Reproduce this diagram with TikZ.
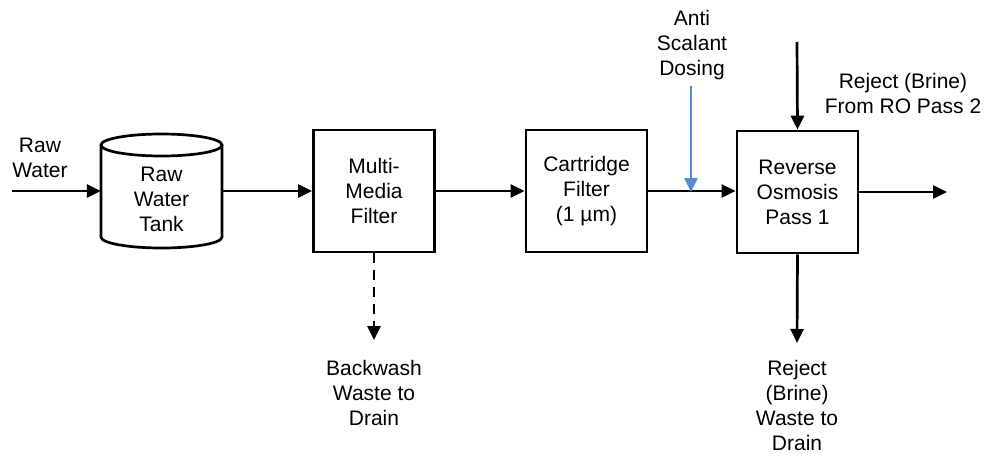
\documentclass[tikz,border=0pt]{standalone}
\usepackage{fontspec}
\setmainfont{Liberation Sans}
\usetikzlibrary{arrows.meta}
\definecolor{dosing}{RGB}{85,142,213}
\begin{document}
\begin{tikzpicture}[x=1pt,y=-1pt,
  every node/.style={font=\fontsize{21}{25}\selectfont, align=center, inner sep=0pt},
  unit/.style={draw, line width=2.7pt, minimum width=121pt, minimum height=122pt},
  flow/.style={line width=2.7pt, -{Triangle[length=14pt,width=13pt]}}]
\useasboundingbox (0,0) rectangle (984,455);

% raw water tank (cylinder drawn around an invisible frame)
\node (tank) [minimum width=121pt, minimum height=114pt] at (161.5,191) {};
\draw[line width=2.7pt]
  (101,145) -- (101,237) arc[start angle=180, end angle=360, x radius=60.5pt, y radius=11pt]
  -- (222,145);
\draw[line width=2.7pt] (161.5,145) ellipse [x radius=60.5pt, y radius=11pt];
\node at (161.5,199) {Raw\\Water\\Tank};

% process units
\node (mmf)  [unit] at (374,191)   {Multi-\\Media\\Filter};
\node (cart) [unit] at (586.5,191) {Cartridge\\Filter\\(1 µm)};
\node (ro)   [unit] at (797.5,192) {Reverse\\Osmosis\\Pass 1};

% free ends of the streams
\coordinate (rawin)  at (12,191);
\coordinate (prod)   at (947,192);
\coordinate (bwend)  at (374,340);
\coordinate (rejend) at (797,343);
\coordinate (r2top)  at (797,42);
\coordinate (dtop)   at (691,86);
\coordinate (dpt)    at (691,192);

% labels
\node (rawlbl) at (40,158) {Raw\\Water};
\node (doslbl) at (692,45) {Anti\\Scalant\\Dosing};
\node (r2lbl)  at (903,93) {Reject (Brine)\\From RO Pass 2};
\node (bwlbl)  at (374,393) {Backwash\\Waste to\\Drain};
\node (rjlbl)  at (797,405) {Reject\\(Brine)\\Waste to\\Drain};

% main flow line
\draw[flow] (rawin) -- (tank.west);
\draw[flow] (tank.east) -- (mmf.west);
\draw[flow] (mmf.east) -- (cart.west);
\draw[flow] (cart.east) -- (cart.east -| ro.west);
\draw[flow] (ro.east) -- (prod);

% side streams
\draw[flow, dash pattern=on 10pt off 7pt] (mmf.south) -- (bwend);
\draw[flow] (ro.south) -- (rejend);
\draw[flow] (r2top) -- (ro.north);
\draw[flow, draw=dosing, fill=dosing] (dtop) -- (dpt);
\end{tikzpicture}
\end{document}
